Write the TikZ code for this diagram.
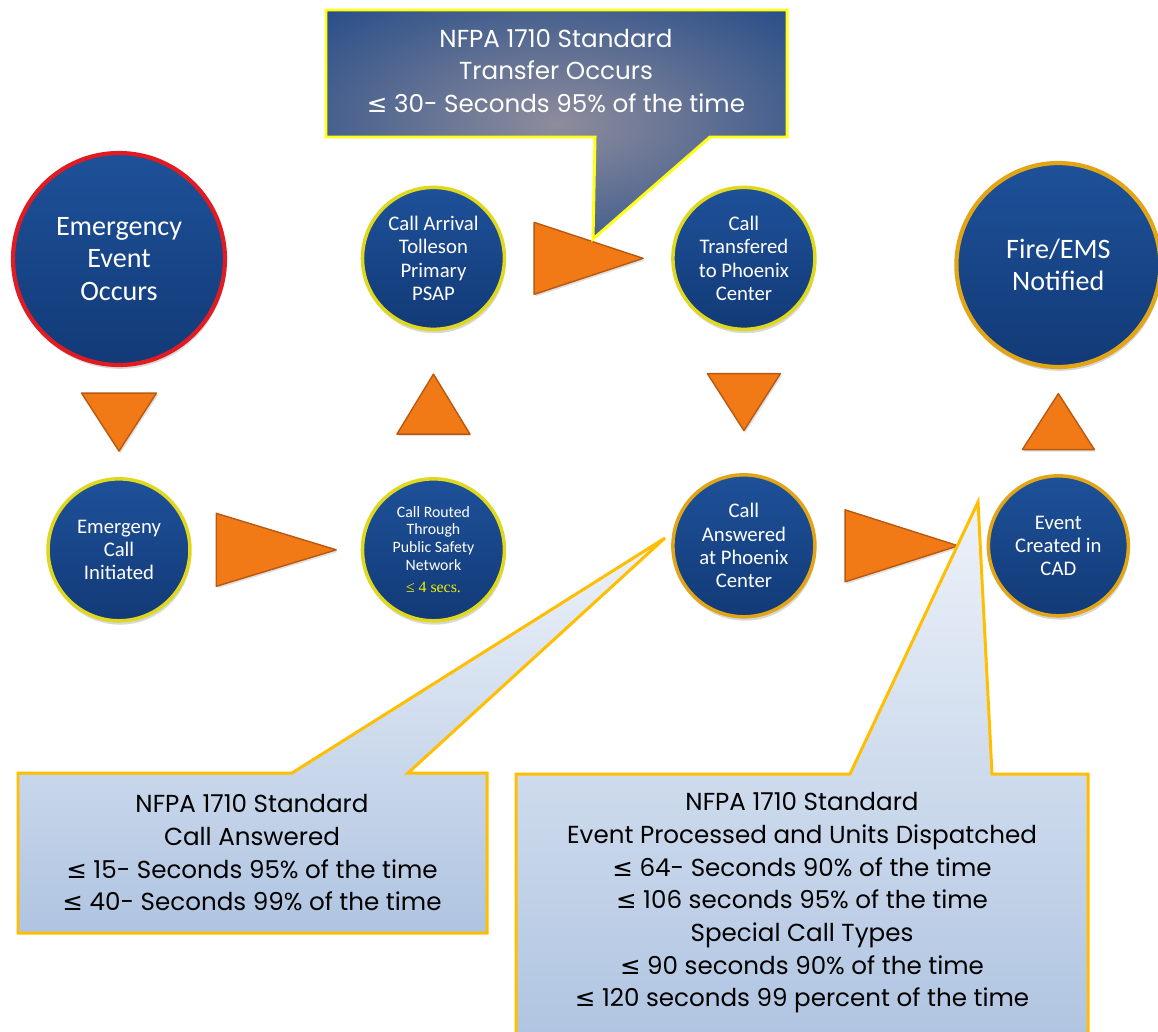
\documentclass[tikz,border=0pt]{standalone}
\usepackage{fontspec}
\setmainfont{Carlito}
\newfontfamily\gothfont{Poppins}
\newfontfamily\symfont{DejaVu Sans}
\newfontfamily\timesfont{Liberation Serif}
\usepackage{tikz}
\usetikzlibrary{positioning,calc,shadows}

\definecolor{discTop}{HTML}{1E5199}
\definecolor{discBottom}{HTML}{123A77}
\definecolor{ringRed}{HTML}{E11B22}
\definecolor{ringYellow}{HTML}{E0D81C}
\definecolor{ringGold}{HTML}{E2A516}
\definecolor{triOrange}{HTML}{F27A16}
\definecolor{triEdge}{HTML}{B9580E}
\definecolor{noteBlue}{HTML}{1B4686}
\definecolor{glowGray}{HTML}{8E8C9C}
\definecolor{noteYellow}{HTML}{FFFF1A}
\definecolor{noteGold}{HTML}{FFBF00}
\definecolor{paleTop}{HTML}{EDF2F9}
\definecolor{paleBottom}{HTML}{AFC4E1}
\definecolor{secYellow}{HTML}{F2F200}

\pgfdeclareradialshading{noteglow}{\pgfpoint{0bp}{0bp}}{%
  color(0bp)=(glowGray); color(40bp)=(noteBlue); color(50bp)=(noteBlue)}

\newcommand{\lesym}{{\symfont ≤}}

\begin{document}
\begin{tikzpicture}[
    x=0.02cm, y=-0.02cm,
    stage/.style={
        circle, draw=ringYellow, line width=2pt,
        top color=discTop, bottom color=discBottom,
        text=white, align=center, inner sep=0pt,
        minimum size=2.84cm, font=\fontsize{11.8}{13.3}\selectfont,
        drop shadow={opacity=0.3, shadow xshift=0.6pt, shadow yshift=-2.2pt}
    },
    bigstage/.style={stage, line width=2.4pt, minimum size=4.24cm,
        font=\fontsize{16}{18.4}\selectfont},
    flowtri/.style={fill=triOrange, draw=triEdge, line width=0.8pt, line join=round,
        drop shadow={opacity=0.25, shadow xshift=0.8pt, shadow yshift=-1.2pt}},
    callout/.style={line width=1.7pt, line join=miter},
    notetext/.style={align=center, font=\gothfont\fontsize{14}{18.6}\selectfont},
]

\path[fill=white] (0,0) rectangle (1158,1031);
\useasboundingbox (0,0) rectangle (1158,1031);

\node[bigstage, draw=ringRed] (ev) at (119,259) {Emergency\\Event\\Occurs};
\node[stage, below=2.2cm of ev] (init) {Emergeny\\Call\\Initiated};
\node[stage, right=3.38cm of init, font=\fontsize{9}{10}\selectfont] (route)
  {Call Routed\\Through\\Public Safety\\Network\\[3pt]{\timesfont\color{secYellow}≤ 4 secs.}};
\node[stage, above=2.92cm of route] (arrival) {Call Arrival\\Tolleson\\Primary\\PSAP};
\node[stage, right=3.3cm of arrival] (xfer) {Call\\Transfered\\to Phoenix\\Center};
\node[stage, draw=ringGold, below=2.84cm of xfer] (answer) {Call\\Answered\\at Phoenix\\Center};
\node[stage, draw=ringGold, minimum size=2.8cm, right=3.4cm of answer] (cad) {Event\\Created in\\CAD};
\node[bigstage, draw=ringGold, minimum size=4.08cm, above=2.1cm of cad] (notify) {Fire/EMS\\Notified};

\foreach \a/\b/\dx/\dy/\len/\wid in {ev/init/0/1/58/75, init/route/1/0/120/73,
    route/arrival/0/-1/60/73, arrival/xfer/1/0/109/72, xfer/answer/0/1/57/73,
    answer/cad/1/0/113/72, cad/notify/0/-1/56/72} {
  \path (\a) -- coordinate[midway] (m) (\b);
  \draw[flowtri] ($(m)+{\len/2}*(\dx,\dy)$)
    -- ($(m)-{\len/2}*(\dx,\dy)+{\wid/2}*(\dy,\dx)$)
    -- ($(m)-{\len/2}*(\dx,\dy)-{\wid/2}*(\dy,\dx)$) -- cycle;
}

\coordinate (tipT) at (593,239);
\coordinate (tipL) at (665,538);
\coordinate (tipR) at (978,502);

\draw[callout, draw=noteYellow, shading=noteglow]
  (326,10) -- (787,10) -- (787,137) -- (710,137) -- (tipT) -- (595,137) -- (326,137) -- cycle;
\draw[callout, draw=noteGold, top color=paleTop, bottom color=paleBottom]
  (18,773) -- (292,773) -- (tipL) -- (408,773) -- (487,773) -- (487,933) -- (18,933) -- cycle;
\draw[callout, draw=noteGold, top color=paleTop, bottom color=paleBottom]
  (516,774) -- (850,774) -- (tipR) -- (992,774) -- (1088,774) -- (1088,1045) -- (516,1045) -- cycle;

\node[notetext, text=white] (toptext) at (556,71)
  {NFPA 1710 Standard\\Transfer Occurs\\\lesym\ 30- Seconds 95\% of the time};
\node[notetext] (lefttext) at (252,853)
  {NFPA 1710 Standard\\Call Answered\\\lesym\ 15- Seconds 95\% of the time\\\lesym\ 40- Seconds 99\% of the time};
\node[notetext] (righttext) at (802,903)
  {NFPA 1710 Standard\\Event Processed and Units Dispatched\\\lesym\ 64- Seconds 90\% of the time\\
   \lesym\ 106 seconds 95\% of the time\\Special Call Types\\\lesym\ 90 seconds 90\% of the time\\
   \lesym\ 120 seconds 99 percent of the time};

\end{tikzpicture}
\end{document}
